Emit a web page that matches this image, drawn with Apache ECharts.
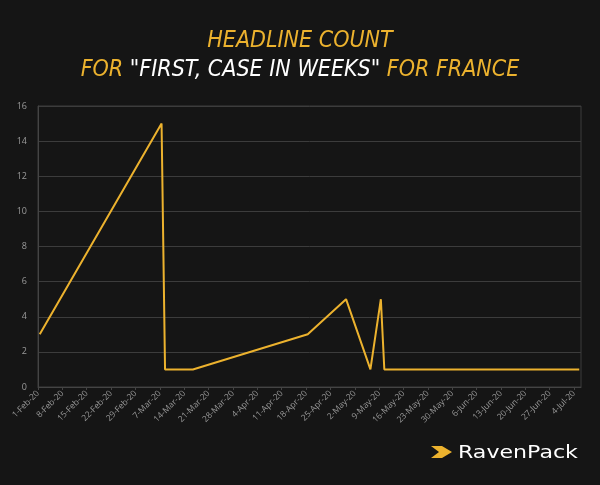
<!DOCTYPE html>
<html><head><meta charset="utf-8">
<script src="https://cdn.jsdelivr.net/npm/echarts@6/dist/echarts.min.js"></script>
<style>html,body{margin:0;padding:0;background:#151515;}#c{width:600px;height:485px;}</style>
</head><body><div id="c"></div>
<script>
// Data (dates of observations) and headline counts
const dates = ['2020-02-01','2020-03-07','2020-03-08','2020-03-16','2020-04-18','2020-04-29','2020-05-06','2020-05-09','2020-05-10','2020-07-05'];
const counts = [3, 15, 1, 1, 3, 5, 1, 5, 1, 1];
const yTicks = [0, 2, 4, 6, 8, 10, 12, 14, 16];
const axisStart = '2020-02-01';
const axisEnd = '2020-07-06';
const months = ['Jan','Feb','Mar','Apr','May','Jun','Jul','Aug','Sep','Oct','Nov','Dec'];

const DAY = 86400000;
const t0 = Date.UTC(2020, 1, 1);
function dayNum(s){ const p = s.split('-').map(Number); return (Date.UTC(p[0], p[1]-1, p[2]) - t0) / DAY; }
function fmt(d){ const dt = new Date(t0 + d*DAY); return dt.getUTCDate() + '-' + months[dt.getUTCMonth()] + '-' + String(dt.getUTCFullYear()).slice(2); }

const seriesData = dates.map((d, i) => [dayNum(d) + 0.5, counts[i]]);
const GOLD = '#ecb22e';
const TF = '"DejaVu Sans Condensed","Liberation Sans Narrow",sans-serif';

const chart = echarts.init(document.getElementById('c'), null, {renderer: 'canvas'});
chart.setOption({
  backgroundColor: '#151515',
  animation: false,
  title: {
    left: 'center', top: 22,
    text: '{g|HEADLINE COUNT}\n{g|FOR }{w|"FIRST, CASE IN WEEKS"}{g| FOR FRANCE}',
    textStyle: {
      fontWeight: 'normal',
      rich: {
        g: {color: GOLD, fontFamily: TF, fontStyle: 'italic', fontWeight: 'normal', fontSize: 23, lineHeight: 29},
        w: {color: '#ffffff', fontFamily: TF, fontStyle: 'italic', fontWeight: 'normal', fontSize: 23, lineHeight: 29}
      }
    }
  },
  grid: {left: 38, right: 19, top: 106, bottom: 98, show: true, borderColor: '#3c3c3c', borderWidth: 1},
  xAxis: {
    type: 'value',
    min: dayNum(axisStart), max: dayNum(axisEnd), interval: 7,
    axisLine: {show: true, lineStyle: {color: '#444444'}},
    axisTick: {show: true, length: 3, lineStyle: {color: '#444444'}},
    splitLine: {show: false},
    axisLabel: {
      rotate: 45, color: '#9a9a9a', fontSize: 8.5, fontFamily: '"Open Sans",sans-serif', margin: 5,
      showMaxLabel: false,
      formatter: v => (v % 7 === 0 ? fmt(v) : '')
    }
  },
  yAxis: {
    type: 'value', min: yTicks[0], max: yTicks[yTicks.length-1], interval: yTicks[1]-yTicks[0],
    axisLine: {show: true, lineStyle: {color: '#444444'}},
    axisTick: {show: false},
    splitLine: {show: true, lineStyle: {color: '#3c3c3c', width: 1}},
    axisLabel: {color: '#9a9a9a', fontSize: 9, fontFamily: '"Open Sans",sans-serif', margin: 11}
  },
  series: [{
    type: 'line', data: seriesData, showSymbol: false, symbol: 'none',
    lineStyle: {color: GOLD, width: 2}
  }],
  graphic: [
    {type: 'polygon', shape: {points: [[431,446],[442,446],[452,452],[442,458],[431,458],[439,452]]}, style: {fill: GOLD}},
    {type: 'text', x: 458, y: 445, scaleX: 1.3, style: {text: 'RavenPack', fill: '#ffffff', fontSize: 17, fontFamily: '"DejaVu Sans",sans-serif', fontWeight: 'normal'}}
  ]
});
</script></body></html>
